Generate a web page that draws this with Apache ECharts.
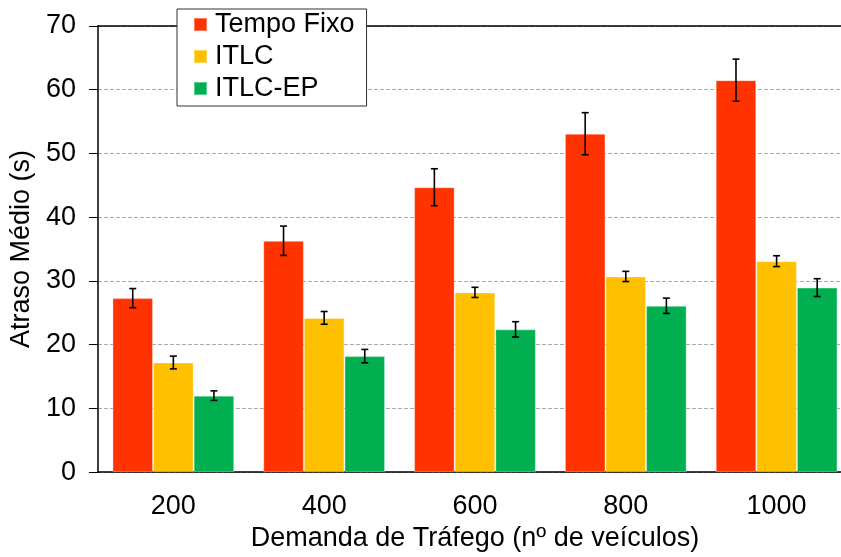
<!DOCTYPE html>
<html>
<head>
<meta charset="utf-8">
<script src="https://cdn.jsdelivr.net/npm/echarts@6/dist/echarts.min.js"></script>
<style>
  html, body { margin: 0; padding: 0; background: #fff; overflow: hidden; }
  #chart { width: 841px; height: 557px; overflow: hidden; position: relative; }
</style>
</head>
<body>
<div id="chart"></div>
<script>
// Average delay per traffic demand level, three signal-control strategies
const categories = ['200', '400', '600', '800', '1000'];
const seriesNames = ['Tempo Fixo', 'ITLC', 'ITLC-EP'];
const tempoFixo = [27.3, 36.3, 44.7, 53.1, 61.5];
const tempoFixoErr = [1.5, 2.3, 2.9, 3.3, 3.3];
const itlc = [17.2, 24.2, 28.2, 30.7, 33.1];
const itlcErr = [1.0, 1.0, 0.8, 0.8, 0.85];
const itlcEp = [12.0, 18.2, 22.4, 26.1, 28.95];
const itlcEpErr = [0.75, 1.05, 1.2, 1.2, 1.4];
const yTicks = [0, 10, 20, 30, 40, 50, 60, 70];

const colors = ['#FF3300', '#FFC000', '#00B050'];
const FONT = "'Liberation Sans', Arial, sans-serif";
const FS = 27;
const BAR_W = 40.6;

const values = [tempoFixo, itlc, itlcEp];
const errors = [tempoFixoErr, itlcErr, itlcEpErr];

const barSeries = seriesNames.map((name, i) => ({
  name: name,
  type: 'bar',
  data: values[i],
  barWidth: BAR_W,
  barGap: '0%',
  itemStyle: { color: colors[i], borderColor: 'rgba(255,255,255,0.35)', borderWidth: 1 },
  z: 2
}));

// Error whiskers drawn on top of each bar
const errSeries = seriesNames.map((name, i) => ({
  type: 'custom',
  name: name + ' err',
  data: values[i].map((v, k) => [k, v - errors[i][k], v + errors[i][k]]),
  z: 5,
  silent: true,
  renderItem: function (params, api) {
    const k = api.value(0);
    const lo = api.coord([k, api.value(1)]);
    const hi = api.coord([k, api.value(2)]);
    const x = lo[0] + (i - 1) * BAR_W;
    const cap = 3.5;
    const st = { stroke: '#000', lineWidth: 1.6 };
    return {
      type: 'group',
      children: [
        { type: 'line', shape: { x1: x, y1: lo[1], x2: x, y2: hi[1] }, style: st },
        { type: 'line', shape: { x1: x - cap, y1: lo[1], x2: x + cap, y2: lo[1] }, style: st },
        { type: 'line', shape: { x1: x - cap, y1: hi[1], x2: x + cap, y2: hi[1] }, style: st }
      ]
    };
  }
}));

// The plot runs past the right edge of the visible area, so the canvas is wider than its clipped container
const chart = echarts.init(document.getElementById('chart'), null, { renderer: 'canvas', width: 860, height: 557 });
chart.setOption({
  animation: false,
  backgroundColor: '#fff',
  textStyle: { fontFamily: FONT },
  grid: { left: 95, top: 26, width: 757, height: 448, containLabel: false },
  legend: {
    data: seriesNames,
    orient: 'vertical',
    left: 177,
    top: 9,
    padding: [2, 12, 4, 16],
    itemGap: 5,
    itemWidth: 13,
    itemHeight: 13,
    icon: 'rect',
    backgroundColor: '#fff',
    borderColor: '#333',
    borderWidth: 1,
    borderRadius: 0,
    z: 20,
    textStyle: { fontSize: FS, color: '#000', fontFamily: FONT, padding: [0, 0, 0, 3] }
  },
  xAxis: [
    {
      type: 'category',
      data: categories,
      position: 'bottom',
      name: 'Demanda de Tráfego (nº de veículos)',
      nameLocation: 'middle',
      nameGap: 49,
      nameTextStyle: { fontSize: FS, color: '#000', fontFamily: FONT },
      axisLine: { lineStyle: { color: '#000', width: 1.5 } },
      axisTick: { alignWithLabel: true, length: 7, lineStyle: { color: '#000' } },
      axisLabel: { fontSize: FS, color: '#000', margin: 21, fontFamily: FONT }
    },
    {
      // upper half of the crossing tick marks
      type: 'category',
      data: categories,
      position: 'bottom',
      axisLine: { show: false },
      axisTick: { alignWithLabel: true, inside: true, length: 6, lineStyle: { color: '#000' } },
      axisLabel: { show: false }
    },
    {
      // frame line across the top of the plot
      type: 'category',
      data: categories,
      position: 'top',
      axisLine: { lineStyle: { color: '#000', width: 1.5 } },
      axisTick: { show: false },
      axisLabel: { show: false }
    }
  ],
  yAxis: {
    type: 'value',
    min: yTicks[0],
    max: yTicks[yTicks.length - 1],
    interval: 10,
    name: 'Atraso Médio (s)',
    nameLocation: 'middle',
    nameGap: 61,
    nameTextStyle: { fontSize: FS, color: '#000', fontFamily: FONT },
    axisLine: { show: true, lineStyle: { color: '#000', width: 1.5 } },
    axisTick: { show: true, length: 9, lineStyle: { color: '#000' } },
    axisLabel: { fontSize: FS, color: '#000', margin: 22, fontFamily: FONT },
    splitLine: { show: true, lineStyle: { color: '#aaa', type: [4, 2], width: 1 } }
  },
  series: barSeries.concat(errSeries)
});
</script>
</body>
</html>
